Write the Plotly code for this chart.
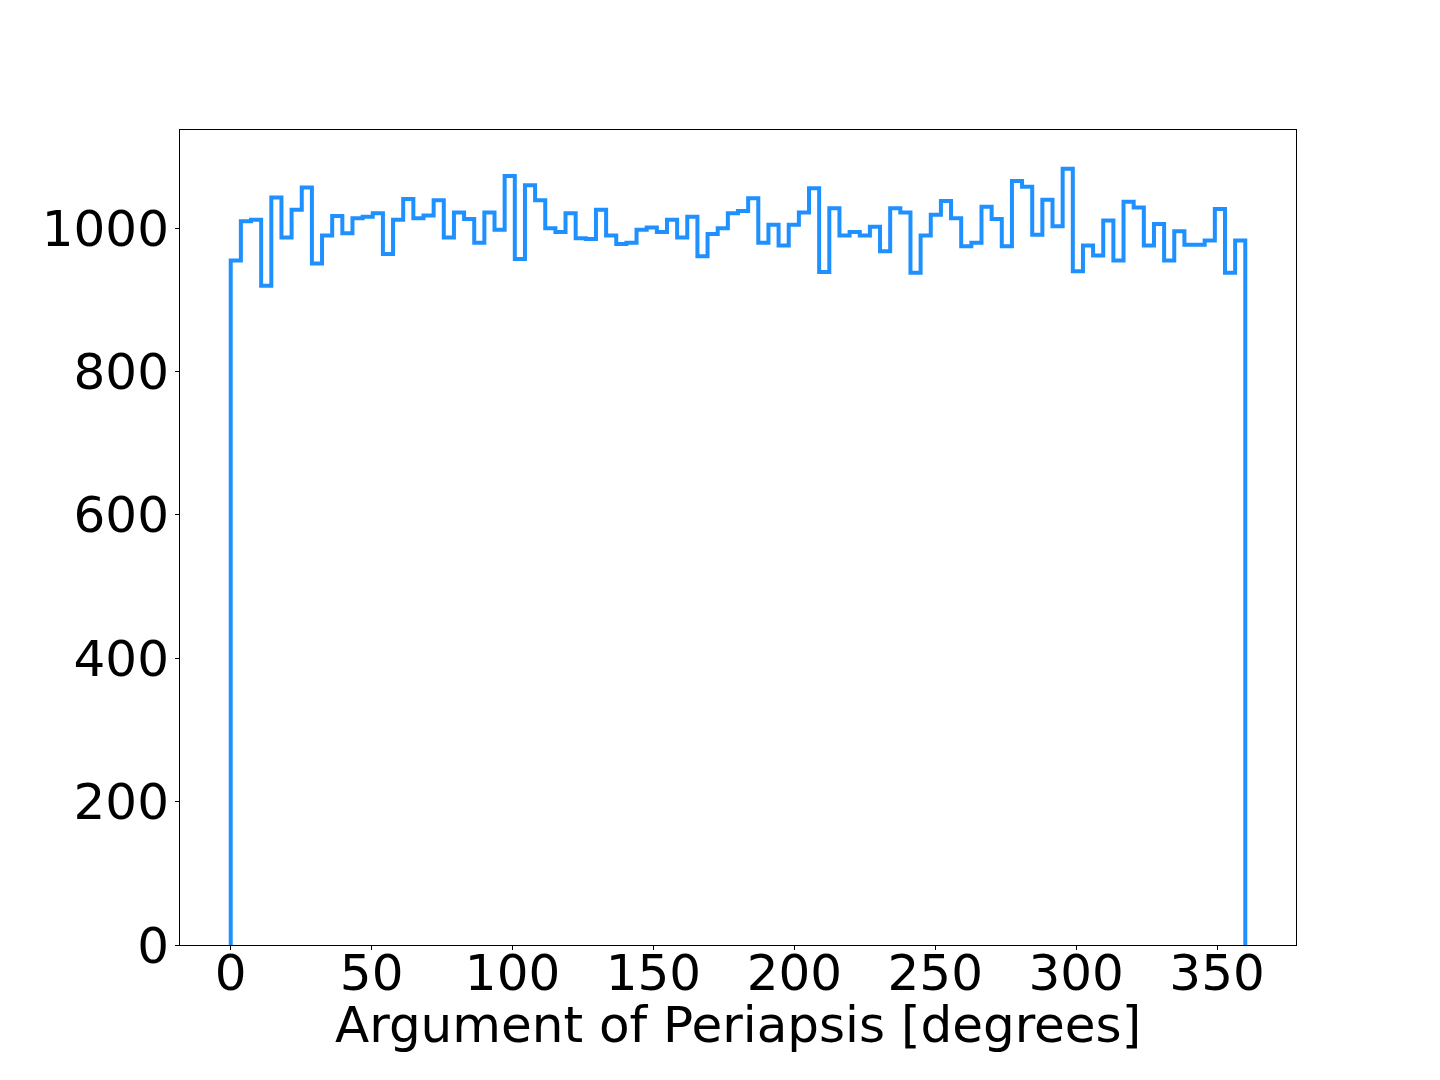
import numpy as np
import plotly.graph_objects as go

# Histogram counts, 100 bins spanning 0..360 degrees
counts = [
    955, 1010, 1012, 920, 1043, 987, 1026, 1057, 951, 990,
    1017, 993, 1014, 1016, 1021, 964, 1012, 1041, 1014, 1018,
    1039, 987, 1022, 1013, 980, 1022, 998, 1073, 957, 1060,
    1039, 1000, 995, 1021, 986, 985, 1026, 990, 978, 980,
    998, 1001, 995, 1012, 987, 1016, 961, 992, 1000, 1021,
    1024, 1042, 980, 1005, 976, 1005, 1022, 1056, 939, 1028,
    990, 995, 990, 1002, 968, 1028, 1022, 938, 990, 1019,
    1038, 1014, 975, 980, 1030, 1013, 975, 1066, 1058, 991,
    1040, 1003, 1083, 940, 976, 962, 1011, 955, 1037, 1029,
    976, 1006, 955, 996, 977, 977, 983, 1027, 938, 983,
]
x_min, x_max = 0.0, 360.0
x_ticks = [0, 50, 100, 150, 200, 250, 300, 350]
y_ticks = [0, 200, 400, 600, 800, 1000]
x_label = "Argument of Periapsis [degrees]"

edges = np.linspace(x_min, x_max, len(counts) + 1)
# step outline (matplotlib histtype='step')
xs = [edges[0]] + list(edges[:-1]) + [edges[-1]]
ys = [0] + list(counts) + [0]

fig = go.Figure(
    go.Scatter(
        x=xs, y=ys, mode="lines",
        line=dict(color="#1E90FF", width=4, shape="hv"),
        hoverinfo="skip", showlegend=False,
    )
)

pad = 0.05 * (x_max - x_min)
font = dict(family="DejaVu Sans", size=50, color="black")
fig.update_layout(
    width=1440, height=1080,
    margin=dict(l=172, r=152, t=122, b=143, pad=0),
    paper_bgcolor="white", plot_bgcolor="white",
    font=font,
)
fig.update_xaxes(
    range=[x_min - pad, x_max + pad],
    tickvals=x_ticks, ticktext=[str(t) for t in x_ticks],
    ticks="outside", ticklen=4, tickwidth=1, tickcolor="black",
    ticklabelstandoff=-20,
    showline=True, linecolor="black", linewidth=1, mirror=True,
    showgrid=False, zeroline=False,
    tickfont=font,
)
fig.update_yaxes(
    range=[0, max(counts) * 1.05],
    tickvals=y_ticks, ticktext=[str(t) for t in y_ticks],
    ticks="outside", ticklen=4, tickwidth=1, tickcolor="black",
    ticklabelstandoff=-4,
    showline=True, linecolor="black", linewidth=1, mirror=True,
    showgrid=False, zeroline=False,
    tickfont=font,
)
fig.add_annotation(
    text=x_label, xref="paper", yref="paper", x=0.5, y=-0.098,
    xanchor="center", yanchor="middle", showarrow=False, font=font,
)
fig.write_html("out.html")
